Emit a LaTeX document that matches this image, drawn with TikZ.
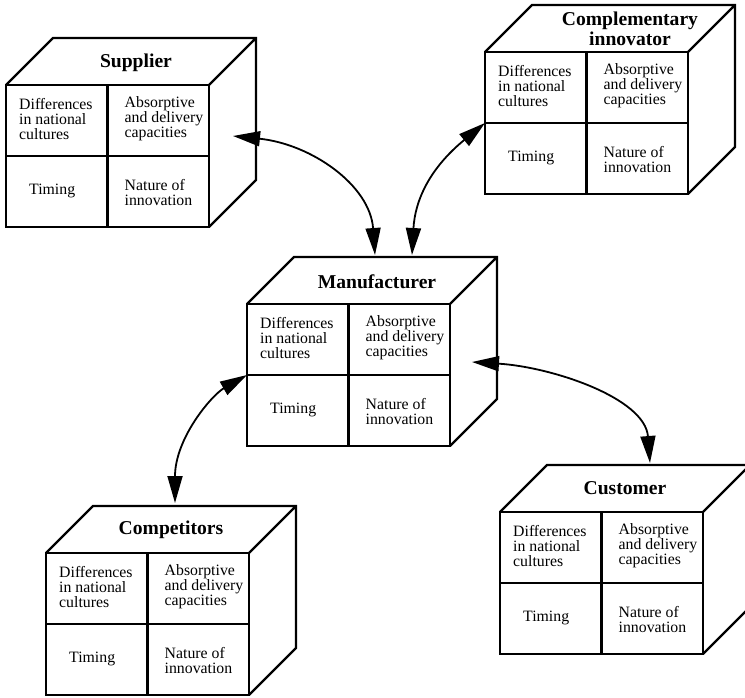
\documentclass[tikz,border=0pt]{standalone}
\usepackage{fontspec}
\setmainfont{Liberation Serif}
\usetikzlibrary{arrows.meta,calc}

\tikzset{
  cubeline/.style={line width=2.2pt, line join=miter},
  face/.style={draw, cubeline, rectangle, minimum width=203pt, minimum height=142pt,
               inner sep=0pt, outer sep=0pt, anchor=north west},
  cell/.style={font=\fontsize{15.8}{15}\selectfont, align=left, inner sep=0pt, anchor=west},
  cubetitle/.style={font=\bfseries\fontsize{19.6}{20}\selectfont, align=center, inner sep=0pt},
  link/.style={line width=1.8pt,
               {Triangle[length=27pt,width=15pt]}-{Triangle[length=27pt,width=15pt]}},
}

% #1 name, #2 front top-left corner, #3 title, #4 title shift
\newcommand\infocube[4]{%
  \node[face] (#1) at (#2) {};
  \draw[cubeline] (#1.north) -- (#1.south) (#1.west) -- (#1.east);
  \draw[cubeline] (#1.north west) -- ++(47,-47) -- ++(203,0) -- ++(0,142) -- (#1.south east)
                  (#1.north east) -- ++(47,-47);
  \node[cubetitle] (#1-title) at ($(#1.north)+(23.5,-23.5)+(#4)$) {#3};
  \node[cell] (#1-ul) at ($(#1.north west)+(13,34)$) {Differences\\in national\\cultures};
  \node[cell] (#1-ur) at ($(#1.north)+(17,34)$) {Absorptive\\and delivery\\capacities};
  \node[cell] (#1-ll) at ($(#1.west)+(23,34.5)$) {Timing};
  \node[cell] (#1-lr) at ($(#1.center)+(17,36.5)$) {Nature of\\innovation};
}

\begin{document}
\begin{tikzpicture}[x=1pt, y=-1pt]
  \fill[white] (0,0) rectangle (745,698);
  \useasboundingbox (0,0) rectangle (745,698);

  \infocube{sup}{6,85}{Supplier}{5,1}
  \infocube{comp}{485,52}{Complementary\\innovator}{20,0}
  \infocube{man}{247,304}{Manufacturer}{5,1}
  \infocube{rival}{46,553}{Competitors}{0,0}
  \infocube{cust}{500,512}{Customer}{0,0}

  % arrow end points on the cube faces
  \coordinate (sup-side) at ($(sup.north east)+(24,51)$);
  \coordinate (man-topA) at ($(man.north west)+(128,-49)$);
  \coordinate (man-topB) at ($(man.north west)+(165,-49)$);
  \coordinate (man-side) at ($(man.north east)+(22,58)$);
  \coordinate (rival-top) at ($(rival.north west)+(129,-50)$);
  \coordinate (cust-top) at ($(cust.north west)+(150,-49)$);

  \draw[link] (sup-side) .. controls +(78,8) and +(-5,-70) .. (man-topA);
  \draw[link] (man-topB) .. controls +(3,-55) and +(-55,45) .. (comp.west);
  \draw[link] (man.west) .. controls +(-35,20) and +(0,-65) .. (rival-top);
  \draw[link] (man-side) .. controls +(80,5) and +(-5,-65) .. (cust-top);
\end{tikzpicture}
\end{document}
